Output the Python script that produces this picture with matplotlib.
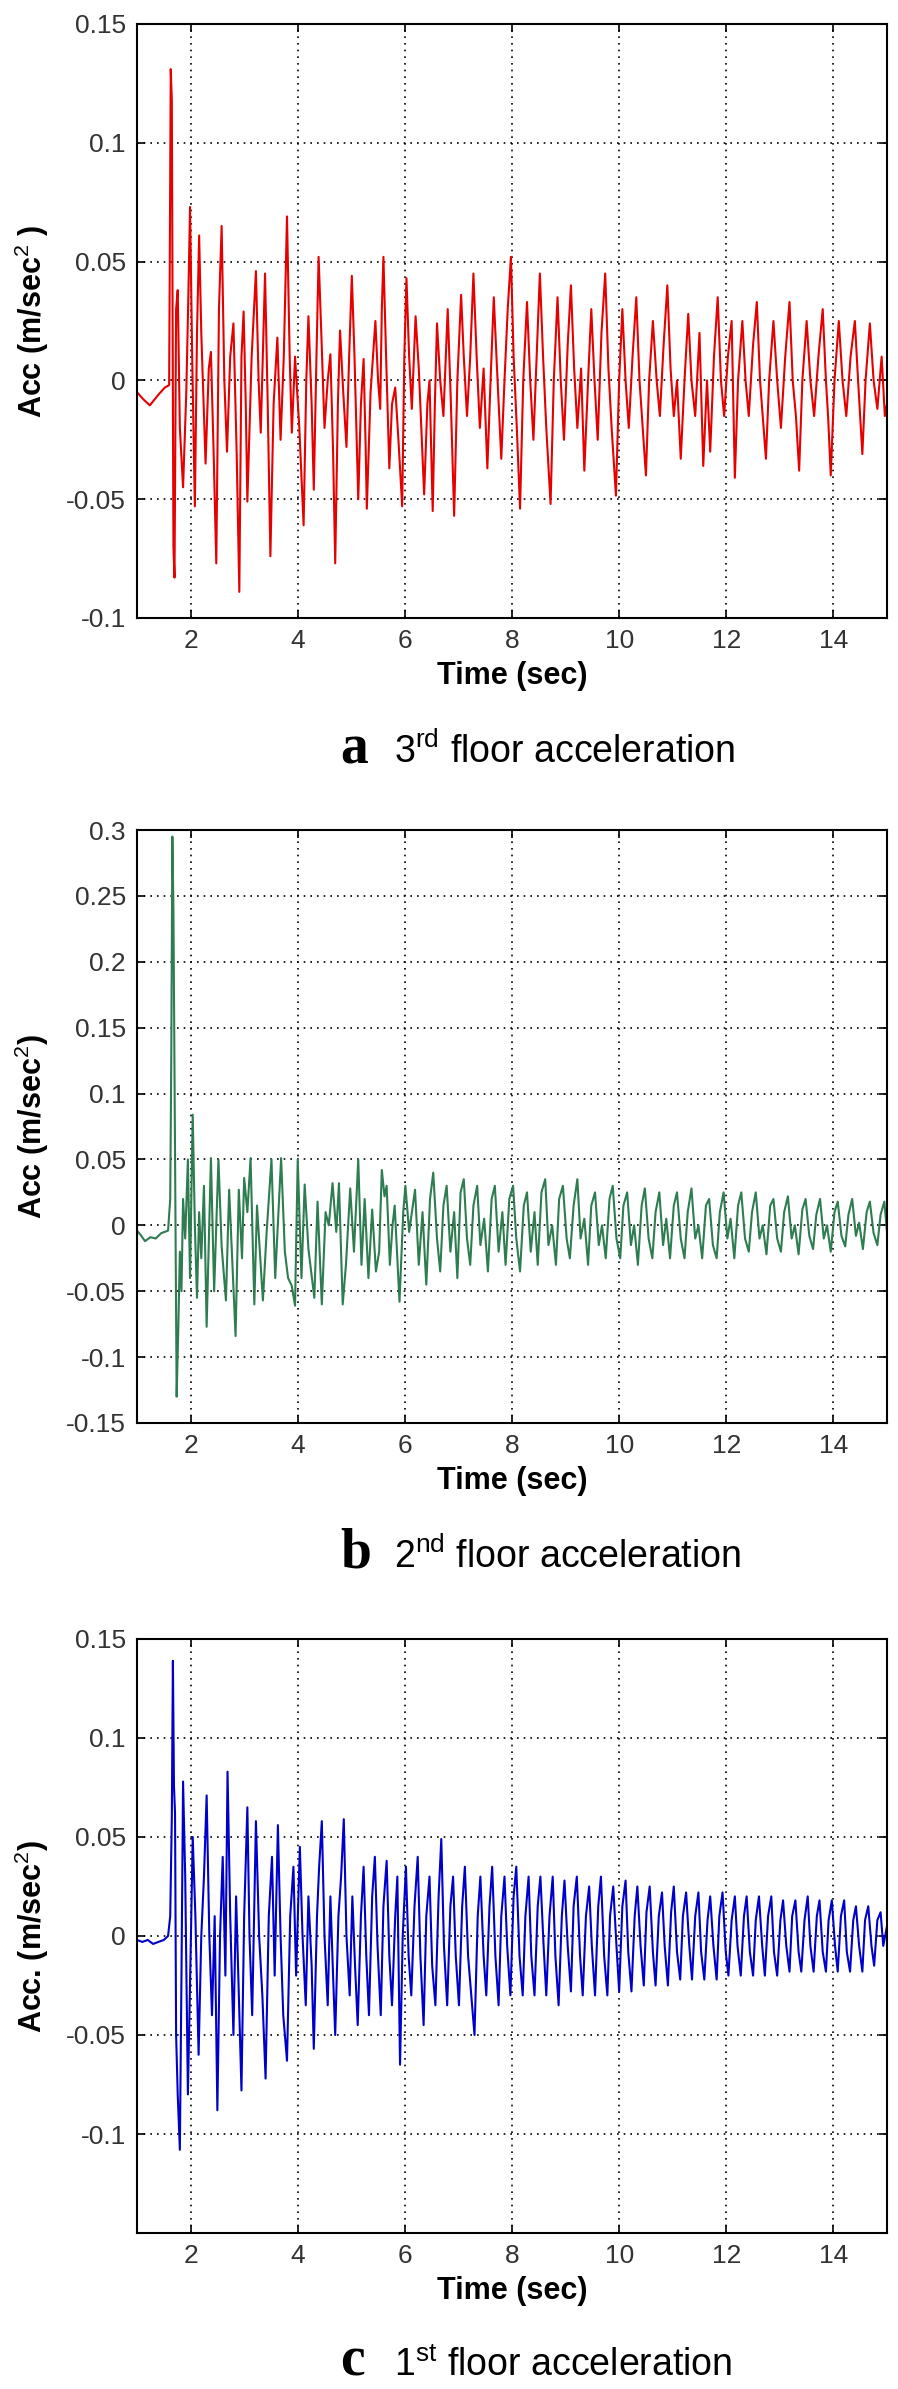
import matplotlib
matplotlib.use("Agg")
import matplotlib.pyplot as plt
from matplotlib import font_manager

# dane (czas [s], przyspieszenie [m/s^2])
t_a = [1.00, 1.12, 1.24, 1.40, 1.52, 1.60, 1.63, 1.65, 1.68, 1.70, 1.73, 1.76, 1.80, 1.86, 1.92, 1.96, 1.99,
       2.03, 2.08, 2.12, 2.16, 2.20, 2.28, 2.34, 2.38, 2.43, 2.48, 2.53, 2.58, 2.63, 2.68, 2.74, 2.80, 2.86,
       2.91, 2.95, 2.99, 3.03, 3.06, 3.14, 3.22, 3.27, 3.31, 3.36, 3.39, 3.44, 3.49, 3.55, 3.62, 3.68, 3.74,
       3.80, 3.85, 3.89, 3.95, 4.03, 4.11, 4.16, 4.20, 4.26, 4.30, 4.35, 4.39, 4.44, 4.50, 4.56, 4.61, 4.66,
       4.70, 4.75, 4.79, 4.85, 4.91, 4.96, 5.01, 5.06, 5.13, 5.18, 5.23, 5.27, 5.29, 5.36, 5.45, 5.50, 5.54,
       5.57, 5.60, 5.65, 5.71, 5.76, 5.82, 5.88, 5.95, 5.99, 6.03, 6.08, 6.13, 6.20, 6.26, 6.36, 6.42, 6.46,
       6.52, 6.56, 6.60, 6.66, 6.72, 6.80, 6.86, 6.92, 6.98, 7.05, 7.10, 7.16, 7.22, 7.28, 7.34, 7.40, 7.47,
       7.54, 7.60, 7.66, 7.72, 7.80, 7.86, 7.92, 7.98, 8.03, 8.09, 8.15, 8.21, 8.28, 8.34, 8.40, 8.46, 8.52,
       8.58, 8.64, 8.72, 8.78, 8.85, 8.91, 8.97, 9.04, 9.10, 9.16, 9.22, 9.29, 9.35, 9.42, 9.48, 9.54, 9.60,
       9.67, 9.74, 9.80, 9.86, 9.94, 10.00, 10.06, 10.12, 10.18, 10.25, 10.32, 10.38, 10.44, 10.50, 10.56,
       10.63, 10.70, 10.76, 10.83, 10.90, 10.96, 11.02, 11.08, 11.15, 11.22, 11.29, 11.35, 11.42, 11.50,
       11.57, 11.64, 11.70, 11.77, 11.84, 11.90, 11.96, 12.03, 12.10, 12.16, 12.22, 12.30, 12.36, 12.42,
       12.50, 12.57, 12.63, 12.68, 12.74, 12.80, 12.88, 12.95, 13.02, 13.10, 13.18, 13.24, 13.30, 13.36,
       13.42, 13.50, 13.57, 13.64, 13.72, 13.80, 13.86, 13.90, 13.95, 14.02, 14.10, 14.17, 14.24, 14.32,
       14.40, 14.46, 14.54, 14.60, 14.68, 14.75, 14.82, 14.90, 14.96, 15.00]
acc_a = [-0.005, -0.008, -0.0105, -0.006, -0.003, -0.002, 0.131, 0.118, -0.070, -0.083, 0.030, 0.038, -0.020,
         -0.045, -0.005, 0.037, 0.073, 0.010, -0.053, 0.020, 0.061, 0.020, -0.035, 0.005, 0.012, -0.030, -0.077,
         0.030, 0.065, 0.000, -0.030, 0.010, 0.024, -0.030, -0.089, 0.010, 0.029, -0.010, -0.051, 0.010, 0.046,
         0.000, -0.022, 0.020, 0.045, -0.010, -0.074, -0.010, 0.018, -0.025, 0.010, 0.069, 0.010, -0.022, 0.010,
         -0.020, -0.061, 0.000, 0.027, -0.010, -0.046, 0.010, 0.052, 0.020, -0.020, 0.000, 0.011, -0.030, -0.077,
         -0.010, 0.021, -0.005, -0.028, 0.010, 0.044, 0.010, -0.050, -0.010, 0.009, -0.030, -0.054, -0.005,
         0.025, 0.000, -0.012, 0.030, 0.052, 0.010, -0.037, -0.010, -0.003, -0.025, -0.053, 0.010, 0.043, 0.010,
         -0.012, 0.027, 0.005, -0.048, -0.010, 0.000, -0.055, -0.010, 0.024, 0.000, -0.015, 0.030, -0.010, -0.057,
         0.000, 0.036, 0.010, -0.015, 0.010, 0.045, 0.010, -0.020, 0.005, -0.037, 0.000, 0.035, 0.005, -0.033,
         0.000, 0.030, 0.052, 0.010, -0.020, -0.054, 0.000, 0.033, 0.000, -0.025, 0.010, 0.045, 0.010, -0.020,
         -0.052, 0.000, 0.035, 0.000, -0.025, 0.015, 0.040, 0.005, -0.020, 0.005, -0.038, 0.000, 0.030, 0.000,
         -0.025, 0.020, 0.045, 0.005, -0.020, -0.0485, 0.000, 0.030, 0.000, -0.020, 0.010, 0.035, 0.000, -0.020,
         -0.040, 0.000, 0.025, 0.000, -0.015, 0.015, 0.040, 0.005, -0.015, 0.000, -0.033, 0.000, 0.028, 0.000,
         -0.015, 0.020, -0.036, 0.000, -0.030, 0.010, 0.035, 0.000, -0.015, 0.010, 0.025, -0.041, 0.000, 0.025,
         0.000, -0.015, 0.015, 0.033, 0.000, -0.015, -0.033, 0.000, 0.025, 0.000, -0.020, 0.010, 0.033, 0.000,
         -0.015, -0.038, 0.000, 0.025, 0.000, -0.015, 0.010, 0.030, 0.000, -0.015, -0.040, 0.000, 0.025, 0.000,
         -0.015, 0.010, 0.025, 0.000, -0.031, 0.000, 0.024, 0.000, -0.012, 0.010, -0.015, -0.010]

t_b = [1.00, 1.08, 1.15, 1.25, 1.35, 1.45, 1.58, 1.62, 1.64, 1.66, 1.68, 1.70, 1.72, 1.74, 1.77, 1.80, 1.83,
       1.86, 1.90, 1.95, 1.99, 2.04, 2.08, 2.12, 2.16, 2.20, 2.25, 2.30, 2.38, 2.44, 2.52, 2.58, 2.66, 2.72,
       2.84, 2.90, 2.96, 3.00, 3.06, 3.12, 3.19, 3.24, 3.35, 3.42, 3.51, 3.58, 3.69, 3.76, 3.82, 3.89, 3.95,
       4.00, 4.07, 4.13, 4.20, 4.31, 4.37, 4.45, 4.52, 4.58, 4.65, 4.72, 4.77, 4.84, 4.90, 4.98, 5.05, 5.13,
       5.19, 5.25, 5.32, 5.39, 5.46, 5.52, 5.57, 5.62, 5.66, 5.72, 5.77, 5.81, 5.90, 5.97, 6.01, 6.08, 6.19,
       6.26, 6.33, 6.40, 6.47, 6.53, 6.60, 6.66, 6.72, 6.78, 6.85, 6.92, 6.98, 7.04, 7.10, 7.16, 7.22, 7.28,
       7.35, 7.41, 7.48, 7.55, 7.62, 7.68, 7.75, 7.82, 7.88, 7.95, 8.02, 8.08, 8.15, 8.22, 8.28, 8.35, 8.42,
       8.48, 8.55, 8.62, 8.68, 8.75, 8.82, 8.88, 8.95, 9.02, 9.08, 9.15, 9.22, 9.28, 9.35, 9.42, 9.48, 9.55,
       9.62, 9.68, 9.75, 9.82, 9.88, 9.95, 10.02, 10.08, 10.15, 10.22, 10.28, 10.35, 10.42, 10.48, 10.55,
       10.62, 10.68, 10.75, 10.82, 10.88, 10.95, 11.02, 11.08, 11.15, 11.22, 11.28, 11.35, 11.42, 11.48,
       11.55, 11.62, 11.68, 11.75, 11.82, 11.88, 11.95, 12.02, 12.08, 12.15, 12.22, 12.28, 12.35, 12.42,
       12.48, 12.55, 12.62, 12.68, 12.75, 12.82, 12.88, 12.95, 13.02, 13.08, 13.15, 13.22, 13.28, 13.35,
       13.42, 13.48, 13.55, 13.62, 13.68, 13.75, 13.82, 13.88, 13.95, 14.02, 14.08, 14.15, 14.22, 14.28,
       14.35, 14.42, 14.48, 14.55, 14.62, 14.68, 14.75, 14.82, 14.88, 14.95, 15.00]
acc_b = [-0.004, -0.008, -0.012, -0.009, -0.010, -0.006, -0.004, 0.020, 0.128, 0.295, 0.240, 0.120, 0.010,
         -0.130, -0.080, -0.020, -0.050, 0.020, -0.010, 0.050, -0.040, 0.084, 0.000, -0.055, 0.010, -0.025,
         0.030, -0.077, 0.051, -0.050, 0.050, -0.016, -0.057, 0.027, -0.084, 0.027, -0.025, 0.036, 0.010, 0.051,
         -0.060, 0.015, -0.057, -0.005, 0.050, -0.040, 0.051, -0.020, -0.040, -0.046, -0.061, 0.050, -0.040,
         0.031, -0.018, -0.055, 0.018, -0.060, 0.010, 0.000, 0.032, -0.005, 0.032, -0.060, -0.030, 0.028,
         -0.020, 0.050, -0.030, 0.020, -0.040, 0.012, -0.035, -0.020, 0.042, 0.022, 0.030, -0.030, 0.000, 0.015,
         -0.058, 0.010, 0.030, -0.005, 0.027, -0.030, 0.010, -0.045, 0.020, 0.040, -0.010, -0.035, 0.015, 0.030,
         -0.020, 0.010, -0.040, 0.025, 0.035, -0.010, -0.030, 0.015, 0.030, -0.015, 0.005, -0.035, 0.020, 0.030,
         -0.020, 0.010, -0.030, 0.020, 0.030, -0.010, -0.035, 0.015, 0.025, -0.020, 0.010, -0.030, 0.025, 0.035,
         -0.015, 0.000, -0.030, 0.020, 0.030, -0.010, -0.025, 0.015, 0.035, -0.010, 0.005, -0.030, 0.015, 0.025,
         -0.015, 0.000, -0.025, 0.020, 0.030, -0.010, -0.025, 0.015, 0.025, -0.015, 0.000, -0.030, 0.015, 0.028,
         -0.010, -0.025, 0.010, 0.025, -0.015, 0.005, -0.025, 0.015, 0.025, -0.010, -0.025, 0.010, 0.028, -0.010,
         0.000, -0.025, 0.015, 0.020, -0.015, -0.025, 0.010, 0.025, -0.010, 0.005, -0.025, 0.015, 0.025, -0.010,
         -0.020, 0.010, 0.025, -0.010, 0.000, -0.022, 0.015, 0.020, -0.010, -0.020, 0.010, 0.022, -0.010, 0.000,
         -0.022, 0.012, 0.020, -0.008, -0.018, 0.008, 0.020, -0.010, 0.000, -0.020, 0.010, 0.018, -0.008, -0.016,
         0.008, 0.020, -0.008, 0.002, -0.018, 0.010, 0.018, -0.006, -0.015, 0.008, 0.018, -0.005]

t_c = [1.00, 1.10, 1.20, 1.30, 1.40, 1.50, 1.58, 1.62, 1.65, 1.67, 1.69, 1.71, 1.73, 1.76, 1.80, 1.83, 1.86,
       1.90, 1.95, 2.00, 2.04, 2.09, 2.15, 2.20, 2.25, 2.30, 2.35, 2.40, 2.45, 2.50, 2.55, 2.60, 2.65, 2.69,
       2.74, 2.80, 2.85, 2.90, 2.95, 3.00, 3.06, 3.10, 3.15, 3.22, 3.28, 3.34, 3.40, 3.46, 3.52, 3.57, 3.63,
       3.68, 3.73, 3.80, 3.86, 3.92, 3.97, 4.04, 4.09, 4.15, 4.20, 4.26, 4.30, 4.36, 4.40, 4.45, 4.50, 4.56,
       4.61, 4.66, 4.70, 4.76, 4.81, 4.86, 4.91, 4.97, 5.02, 5.07, 5.12, 5.18, 5.23, 5.28, 5.33, 5.39, 5.44,
       5.49, 5.55, 5.60, 5.66, 5.71, 5.76, 5.82, 5.86, 5.91, 5.96, 6.02, 6.07, 6.12, 6.18, 6.24, 6.29, 6.35,
       6.40, 6.46, 6.51, 6.57, 6.63, 6.68, 6.73, 6.79, 6.85, 6.90, 6.95, 7.01, 7.07, 7.12, 7.18, 7.24, 7.30,
       7.36, 7.41, 7.47, 7.52, 7.58, 7.63, 7.69, 7.75, 7.80, 7.86, 7.91, 7.97, 8.03, 8.08, 8.14, 8.20, 8.25,
       8.31, 8.36, 8.42, 8.48, 8.53, 8.59, 8.64, 8.70, 8.76, 8.81, 8.87, 8.93, 8.98, 9.04, 9.10, 9.15, 9.21,
       9.27, 9.32, 9.38, 9.44, 9.49, 9.55, 9.61, 9.66, 9.72, 9.78, 9.83, 9.89, 9.95, 10.00, 10.06, 10.12,
       10.17, 10.23, 10.29, 10.34, 10.40, 10.46, 10.51, 10.57, 10.63, 10.68, 10.74, 10.80, 10.85, 10.91,
       10.97, 11.02, 11.08, 11.14, 11.19, 11.25, 11.31, 11.36, 11.42, 11.48, 11.53, 11.59, 11.65, 11.70,
       11.76, 11.82, 11.87, 11.93, 11.99, 12.04, 12.10, 12.16, 12.21, 12.27, 12.33, 12.38, 12.44, 12.50,
       12.55, 12.61, 12.67, 12.72, 12.78, 12.84, 12.89, 12.95, 13.01, 13.06, 13.12, 13.18, 13.23, 13.29,
       13.35, 13.40, 13.46, 13.52, 13.57, 13.63, 13.69, 13.74, 13.80, 13.86, 13.91, 13.97, 14.03, 14.08,
       14.14, 14.20, 14.25, 14.31, 14.37, 14.42, 14.48, 14.54, 14.59, 14.65, 14.71, 14.76, 14.82, 14.88,
       14.93, 15.00]
acc_c = [-0.002, -0.003, -0.002, -0.004, -0.003, -0.002, 0.000, 0.010, 0.060, 0.139, 0.076, 0.062, -0.050,
         -0.080, -0.108, -0.020, 0.078, 0.030, -0.080, -0.010, 0.050, 0.010, -0.060, 0.000, 0.030, 0.071, 0.000,
         -0.040, 0.010, -0.088, 0.000, 0.040, -0.020, 0.083, 0.010, -0.050, 0.020, -0.030, -0.078, 0.010, 0.065,
         0.000, -0.040, 0.058, 0.000, -0.030, -0.072, 0.010, 0.040, -0.020, 0.056, 0.000, -0.040, -0.063, 0.010,
         0.035, -0.020, 0.045, 0.000, -0.035, 0.020, -0.015, -0.057, 0.010, 0.035, 0.058, 0.000, -0.035, 0.020,
         -0.020, -0.050, 0.010, 0.030, 0.059, 0.000, -0.030, 0.020, -0.015, -0.045, 0.010, 0.035, -0.010, -0.040,
         0.020, 0.040, -0.005, -0.040, 0.015, 0.038, -0.010, -0.035, 0.010, 0.030, -0.065, 0.000, 0.035, -0.010,
         -0.030, 0.015, 0.040, -0.010, -0.045, 0.010, 0.030, -0.015, -0.035, 0.020, 0.049, -0.005, -0.035, 0.015,
         0.030, -0.010, -0.035, 0.015, 0.035, -0.010, -0.030, -0.050, 0.010, 0.030, -0.010, -0.030, 0.015, 0.035,
         -0.010, -0.035, 0.010, 0.030, -0.005, -0.030, 0.020, 0.035, -0.010, -0.030, 0.010, 0.030, -0.010, -0.030,
         0.015, 0.030, -0.005, -0.030, 0.010, 0.030, -0.010, -0.035, 0.010, 0.028, -0.005, -0.028, 0.015, 0.030,
         -0.010, -0.030, 0.010, 0.025, -0.005, -0.030, 0.015, 0.030, -0.010, -0.030, 0.010, 0.025, -0.005, -0.028,
         0.015, 0.028, -0.008, -0.028, 0.010, 0.025, -0.005, -0.025, 0.012, 0.025, -0.008, -0.025, 0.010, 0.022,
         -0.005, -0.025, 0.012, 0.025, -0.008, -0.022, 0.010, 0.022, -0.005, -0.022, 0.010, 0.022, -0.008, -0.022,
         0.008, 0.020, -0.005, -0.022, 0.010, 0.022, -0.008, -0.020, 0.008, 0.020, -0.005, -0.020, 0.010, 0.020,
         -0.008, -0.020, 0.008, 0.020, -0.005, -0.020, 0.010, 0.020, -0.008, -0.020, 0.008, 0.018, -0.005, -0.018,
         0.010, 0.018, -0.008, -0.018, 0.008, 0.020, -0.005, -0.018, 0.010, 0.018, -0.008, -0.018, 0.008, 0.018,
         -0.005, -0.018, 0.010, 0.018, -0.008, -0.018, 0.008, 0.015, -0.005, -0.018, 0.008, 0.015, -0.005, -0.015,
         0.008, 0.012, -0.005, 0.005]

xticks = [2, 4, 6, 8, 10, 12, 14]
yticks_a = [-0.1, -0.05, 0, 0.05, 0.1, 0.15]
yticks_b = [-0.15, -0.1, -0.05, 0, 0.05, 0.1, 0.15, 0.2, 0.25, 0.3]
yticks_c = [-0.1, -0.05, 0, 0.05, 0.1, 0.15]

# czcionki podobne do Arial / Times
names = {f.name for f in font_manager.fontManager.ttflist}
sans = "Liberation Sans" if "Liberation Sans" in names else "DejaVu Sans"
serif = "Liberation Serif" if "Liberation Serif" in names else "DejaVu Serif"
plt.rcParams["font.family"] = [sans, "DejaVu Sans"]
plt.rcParams["mathtext.fontset"] = "custom"
plt.rcParams["mathtext.rm"] = sans
plt.rcParams["mathtext.it"] = sans + ":italic"
plt.rcParams["mathtext.bf"] = sans + ":bold"

W, H = 898, 2389
fig = plt.figure(figsize=(W / 100, H / 100), dpi=100)


def fmt(v):
    s = "%g" % v
    return "0" if s in ("0", "-0") else s


def panel(top_px, bottom_px, t, acc, color, yticks, ylim, ylabel):
    ax = fig.add_axes([137 / W, 1 - bottom_px / H, 750 / W, (bottom_px - top_px) / H])
    ax.plot(t, acc, color=color, lw=1.5)
    ax.set_xlim(1, 15)
    ax.set_ylim(*ylim)
    ax.set_xticks(xticks)
    ax.set_yticks(yticks)
    ax.set_yticklabels([fmt(v) for v in yticks])
    ax.grid(True, color="black", linestyle=(0, (1, 3)), lw=1.2)
    ax.tick_params(direction="in", length=6, width=1.2, top=True, right=True,
                   labelsize=19, labelcolor="#333333", pad=8)
    for s in ax.spines.values():
        s.set_linewidth(1.5)
    ax.set_xlabel("Time (sec)", fontsize=22, fontweight="bold")
    ax.xaxis.set_label_coords(0.5, -0.072)
    ax.set_ylabel(ylabel, fontsize=22, fontweight="bold")
    ax.yaxis.set_label_coords(-0.115, 0.5)
    return ax


panel(24, 618, t_a, acc_a, "#e60000", yticks_a, (-0.1, 0.15), r"Acc (m/sec$^{2}$ )")
panel(830, 1423, t_b, acc_b, "#2e7d50", yticks_b, (-0.15, 0.3), r"Acc (m/sec$^{2}$)")
panel(1639, 2233, t_c, acc_c, "#0000cc", yticks_c, (-0.15, 0.15), r"Acc. (m/sec$^{2}$)")

# podpisy pod wykresami
captions = [("a", r"3$^{\mathregular{rd}}$ floor acceleration", 763),
            ("b", r"2$^{\mathregular{nd}}$ floor acceleration", 1568),
            ("c", r"1$^{\mathregular{st}}$ floor acceleration", 2376)]
for letter, text, base in captions:
    fig.text(340 / W, 1 - base / H, letter, family=serif, fontweight="bold", fontsize=40, va="baseline")
    fig.text(394 / W, 1 - base / H, text, fontsize=27, va="baseline")

fig.savefig("out.png", dpi=100, facecolor="white")
